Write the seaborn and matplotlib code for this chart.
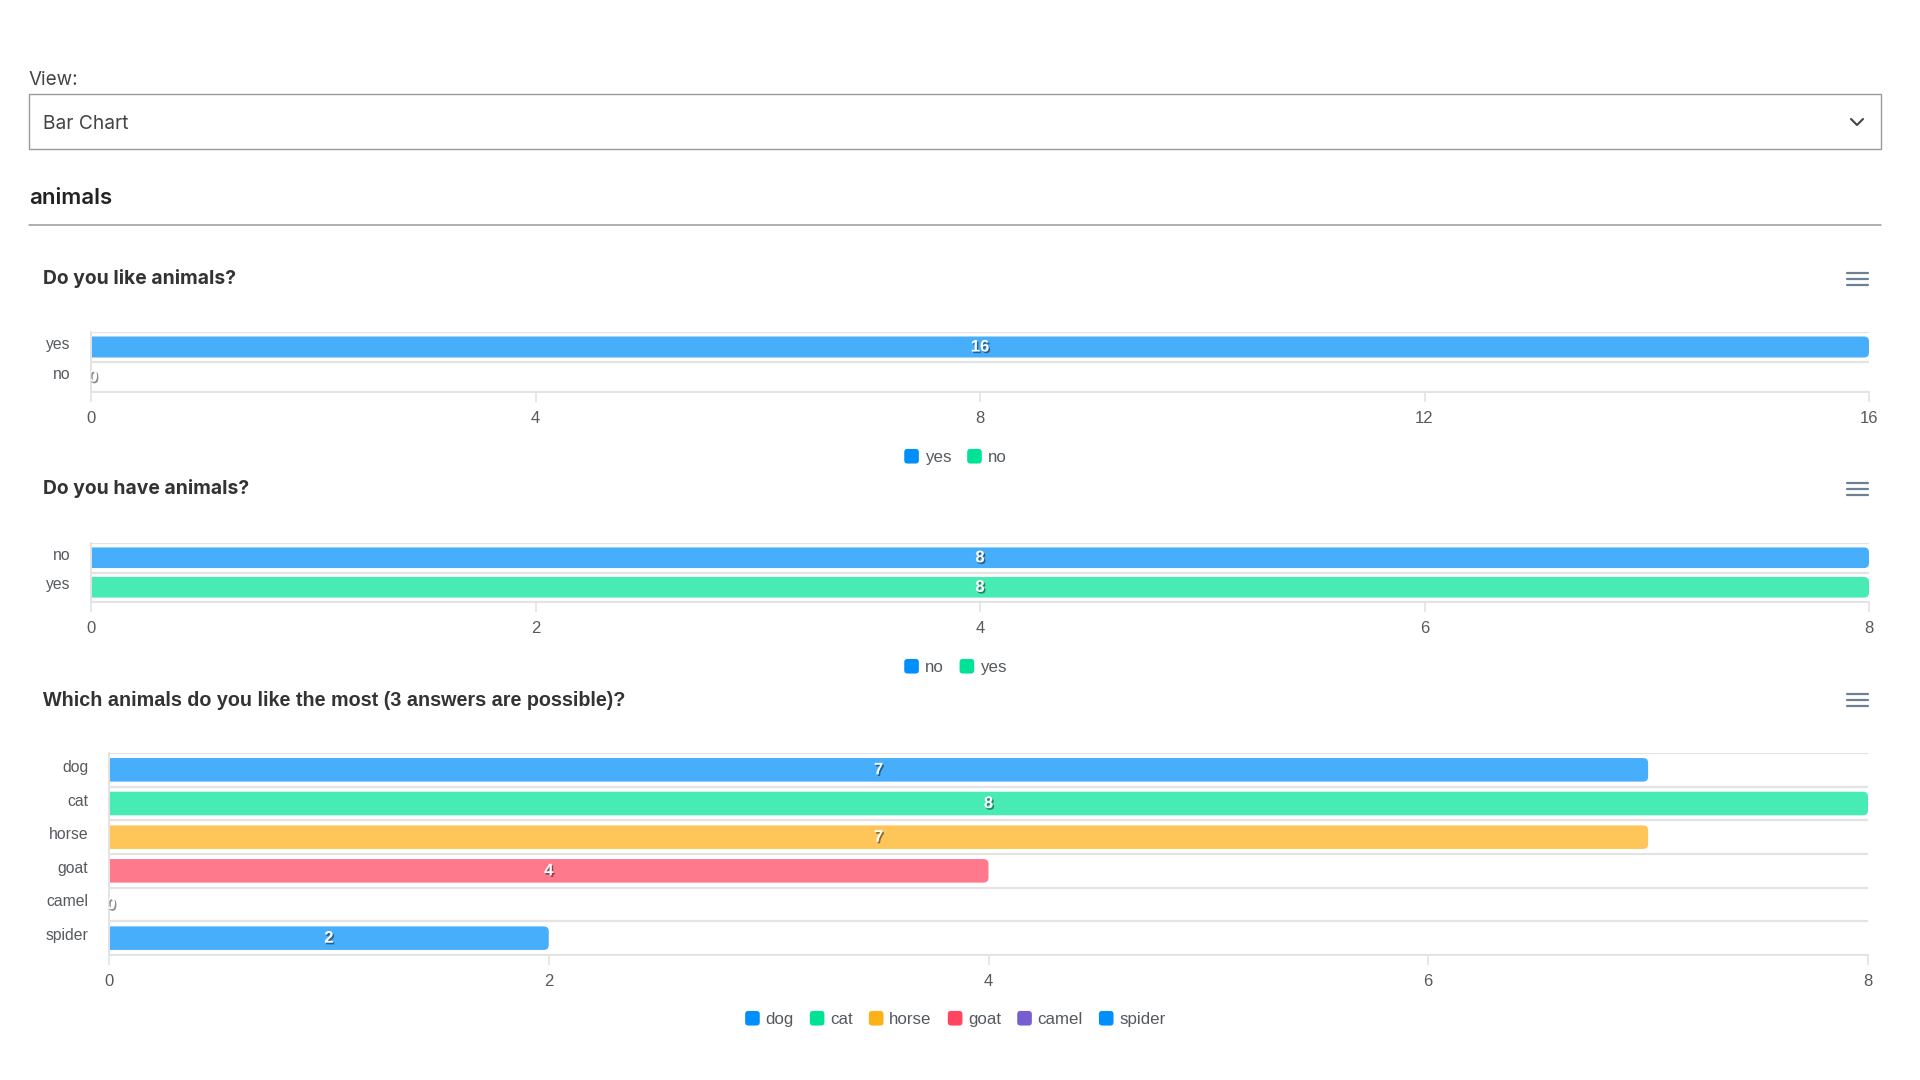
import matplotlib
matplotlib.use("Agg")
import matplotlib.pyplot as plt
import seaborn as sns
import pandas as pd
import matplotlib.colors as mcolors
import matplotlib.patheffects as pe
import matplotlib.transforms as mtransforms
from matplotlib.patches import FancyBboxPatch, Rectangle, Patch
from matplotlib.lines import Line2D
from matplotlib.legend_handler import HandlerPatch

# ---------------- data ----------------
page_label = "View:"
dropdown_text = "Bar Chart"
section_title = "animals"

q1_title = "Do you like animals?"
q1_cats = ["yes", "no"]
q1_vals = [16, 0]
q1_xticks = [0, 4, 8, 12, 16]

q2_title = "Do you have animals?"
q2_cats = ["no", "yes"]
q2_vals = [8, 8]
q2_xticks = [0, 2, 4, 6, 8]

q3_title = "Which animals do you like the most (3 answers are possible)?"
q3_cats = ["dog", "cat", "horse", "goat", "camel", "spider"]
q3_vals = [7, 8, 7, 4, 0, 2]
q3_xticks = [0, 2, 4, 6, 8]

BLUE, GREEN, ORANGE, RED, PURPLE = "#008FFB", "#00E396", "#FEB019", "#FF4560", "#775DD0"
q1_colors = [BLUE, GREEN]
q2_colors = [BLUE, GREEN]
q3_colors = [BLUE, GREEN, ORANGE, RED, PURPLE, BLUE]

# ---------------- setup ----------------
sns.set_theme(style="white")
plt.rcParams["font.family"] = ["Liberation Sans", "DejaVu Sans"]

W, H = 1920, 1080
fig = plt.figure(figsize=(W / 100, H / 100), dpi=100)
fig.patch.set_facecolor("white")


def fx(x):
    return x / W


def fy(y):
    return 1 - y / H


def fade(c, a=0.72):
    r, g, b = mcolors.to_rgb(c)
    return (r * a + (1 - a), g * a + (1 - a), b * a + (1 - a))


TEXT = "#333333"
LABEL = "#555a5e"
GRID = "#e3e3e3"
INTER = ["Inter", "DejaVu Sans"]

# ---------------- page header ----------------
fig.text(fx(29), fy(80), page_label, ha="left", va="center", fontsize=13.6,
         family=INTER, color="#444444")
fig.add_artist(Rectangle((fx(29), fy(149)), (1881 - 29) / W, (149 - 94) / H,
                         fill=False, ec="#9a9a9a", lw=1.0, transform=fig.transFigure))
fig.text(fx(43), fy(124), dropdown_text, ha="left", va="center", fontsize=13.8,
         family=INTER, color="#444444")
fig.add_artist(Line2D([fx(1851), fx(1857), fx(1863)], [fy(119), fy(125), fy(119)],
                      color="#444444", lw=1.5, transform=fig.transFigure))
fig.text(fx(29), fy(198), section_title, ha="left", va="center", fontsize=16,
         weight="semibold", family=INTER, color="#222222")
fig.add_artist(Line2D([fx(29), fx(1881)], [fy(225), fy(225)], color="#9a9a9a",
                      lw=1.1, transform=fig.transFigure))


class RoundHandler(HandlerPatch):
    def create_artists(self, legend, orig_handle, xdescent, ydescent, width,
                       height, fontsize, trans):
        s = min(width, height)
        p = FancyBboxPatch((-xdescent + (width - s) / 2, -ydescent + (height - s) / 2),
                           s, s, boxstyle=f"round,pad=0,rounding_size={s * 0.22}",
                           fc=orig_handle.get_facecolor(), ec="none", transform=trans)
        return [p]


def draw_chart(cats, vals, colors, xticks, box, title, title_y, legend_y,
               title_family, title_size):
    l, t, r, b = box
    ax = fig.add_axes([fx(l), fy(b), (r - l) / W, (b - t) / H])
    df = pd.DataFrame({"cat": cats, "val": vals})
    pal = {c: fade(col) for c, col in zip(cats, colors)}
    sns.barplot(data=df, x="val", y="cat", hue="cat", palette=pal, width=0.7,
                legend=False, ax=ax, orient="h", saturation=1)
    n = len(cats)
    xmax = xticks[-1]
    ax.set_xlim(0, xmax)
    ax.set_ylim(n - 0.5, -0.5)

    # rounded bar ends
    xpx = (r - l) / xmax
    ypx = (b - t) / n
    rad = 5.0
    rx = rad / xpx
    aspect = xpx / ypx
    for p in list(ax.patches):
        x0, y0 = p.get_xy()
        w, h = p.get_width(), p.get_height()
        fc = p.get_facecolor()
        p.remove()
        if w <= 0:
            continue
        fb = FancyBboxPatch((x0 - rx, y0), w + rx, h,
                            boxstyle=f"round,pad=0,rounding_size={rx}",
                            mutation_aspect=aspect, fc=fc, ec="none", zorder=2)
        ax.add_patch(fb)

    # data labels
    for i, v in enumerate(vals):
        xpos = v / 2 if v > 0 else 2.0 / xpx
        ax.text(xpos, i, str(v), ha="center", va="center", color="white",
                weight="bold", fontsize=12, zorder=4, clip_on=True,
                path_effects=[pe.SimplePatchShadow(offset=(1, -1.2),
                                                   shadow_rgbFace="black", alpha=0.45),
                              pe.Normal()])

    # grid and axes styling
    ax.set_yticks(range(n))
    ax.set_yticks([i - 0.5 for i in range(n + 1)], minor=True)
    ax.grid(False)
    ax.grid(which="minor", axis="y", color=GRID, lw=1.6)
    ax.set_axisbelow(True)
    for s in ["top", "right"]:
        ax.spines[s].set_visible(False)
    for s in ["left", "bottom"]:
        ax.spines[s].set_color(GRID)
        ax.spines[s].set_linewidth(1.4)
    ax.set_xticks(xticks)
    ax.set_xticklabels([str(x) for x in xticks])
    ax.tick_params(axis="x", which="major", length=7.5, width=1.2, color=GRID,
                   labelcolor=LABEL, labelsize=12, pad=6, bottom=True)
    ax.tick_params(axis="y", which="both", length=0, labelcolor=LABEL,
                   labelsize=11.3, pad=15)
    shift = mtransforms.ScaledTranslation(0, 4 / 100, fig.dpi_scale_trans)
    for lab in ax.get_yticklabels():
        lab.set_transform(lab.get_transform() + shift)
    ax.set_xlabel("")
    ax.set_ylabel("")

    # title
    fig.text(fx(43), fy(title_y), title, ha="left", va="center", fontsize=title_size,
             weight="bold", family=title_family, color=TEXT)
    # menu icon
    for dy in (-6, 0, 6):
        fig.add_artist(Line2D([fx(1847), fx(1868)], [fy(title_y + dy)] * 2,
                              color="#6e8192", lw=1.6, transform=fig.transFigure))
    # legend
    seen = []
    handles, labels = [], []
    for c, col in zip(cats, colors):
        if c in seen:
            continue
        seen.append(c)
        handles.append(Patch(facecolor=col))
        labels.append(c)
    fig.legend(handles, labels, loc="center", bbox_to_anchor=(fx(955), fy(legend_y)),
               ncol=len(labels), frameon=False, handler_map={Patch: RoundHandler()},
               handlelength=0.95, handleheight=0.95, handletextpad=0.3,
               columnspacing=0.9, fontsize=12.2, labelcolor=LABEL,
               borderaxespad=0, borderpad=0)
    return ax


draw_chart(q1_cats, q1_vals, q1_colors, q1_xticks, (91, 332, 1869, 392),
           q1_title, 279, 457, INTER, 13.9)
draw_chart(q2_cats, q2_vals, q2_colors, q2_xticks, (91, 543, 1869, 602),
           q2_title, 489, 667, INTER, 13.9)
draw_chart(q3_cats, q3_vals, q3_colors, q3_xticks, (109, 753, 1868, 955),
           q3_title, 700, 1019, ["Liberation Sans", "DejaVu Sans"], 14.2)

fig.savefig("out.png", dpi=100, facecolor="white")
